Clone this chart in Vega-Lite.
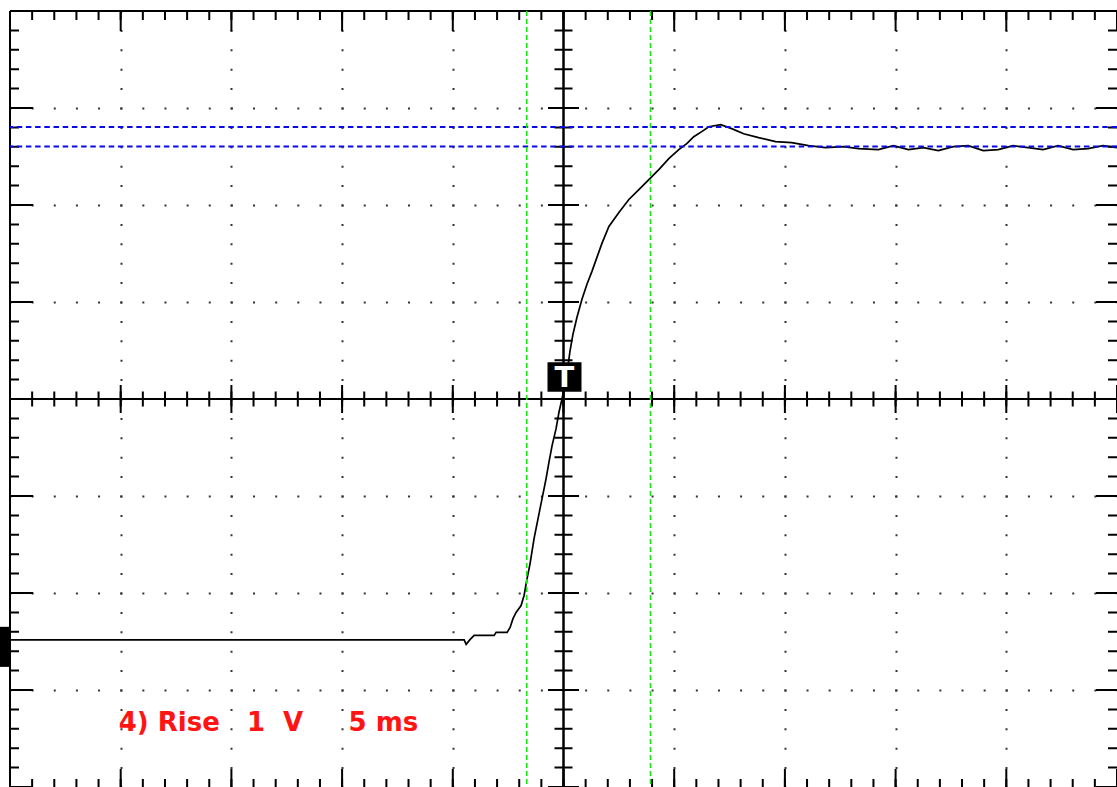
{
  "$schema": "https://vega.github.io/schema/vega-lite/v6.json",
  "width": 1107,
  "height": 776,
  "padding": {"left": 10, "top": 11, "right": 0, "bottom": 0},
  "autosize": {"type": "none"},
  "background": "white",
  "data": {"values": [{"item": "annotation"}]},
  "config": {
    "view": {"stroke": null},
    "axis": {"domain": false, "ticks": false, "labels": false, "title": null}
  },
  "layer": [
    {
      "data": {"values": [
        {"t": -25, "V": -2.483}, {"t": -4.486, "V": -2.483}, {"t": -4.396, "V": -2.529},
        {"t": -4.215, "V": -2.478}, {"t": -4.035, "V": -2.437}, {"t": -3.133, "V": -2.437},
        {"t": -3.043, "V": -2.406}, {"t": -2.547, "V": -2.406}, {"t": -2.412, "V": -2.355},
        {"t": -2.277, "V": -2.262}, {"t": -2.142, "V": -2.2}, {"t": -1.916, "V": -2.129},
        {"t": -1.781, "V": -2.026}, {"t": -1.646, "V": -1.851}, {"t": -1.51, "V": -1.697},
        {"t": -1.33, "V": -1.44}, {"t": -1.06, "V": -1.131}, {"t": -0.789, "V": -0.823},
        {"t": -0.654, "V": -0.648}, {"t": -0.518, "V": -0.483}, {"t": -0.338, "V": -0.308},
        {"t": -0.203, "V": -0.134}, {"t": -0.068, "V": 0}, {"t": 0.068, "V": 0.154},
        {"t": 0.203, "V": 0.339}, {"t": 0.293, "V": 0.494}, {"t": 0.428, "V": 0.668},
        {"t": 0.609, "V": 0.843}, {"t": 0.834, "V": 1.028}, {"t": 1.06, "V": 1.183},
        {"t": 1.285, "V": 1.316}, {"t": 1.51, "V": 1.46}, {"t": 1.736, "V": 1.604},
        {"t": 2.051, "V": 1.779}, {"t": 2.502, "V": 1.923}, {"t": 2.953, "V": 2.057},
        {"t": 3.404, "V": 2.159}, {"t": 3.945, "V": 2.283}, {"t": 4.305, "V": 2.365},
        {"t": 4.756, "V": 2.478}, {"t": 5.207, "V": 2.571}, {"t": 5.568, "V": 2.632},
        {"t": 5.884, "V": 2.704}, {"t": 6.244, "V": 2.756}, {"t": 6.56, "V": 2.807},
        {"t": 7.101, "V": 2.828}, {"t": 7.597, "V": 2.787}, {"t": 8.138, "V": 2.735},
        {"t": 8.814, "V": 2.694}, {"t": 9.581, "V": 2.653}, {"t": 10.302, "V": 2.643},
        {"t": 11.069, "V": 2.612}, {"t": 11.835, "V": 2.591}, {"t": 12.647, "V": 2.602},
        {"t": 13.323, "V": 2.581}, {"t": 14.225, "V": 2.571}, {"t": 14.901, "V": 2.612},
        {"t": 15.577, "V": 2.571}, {"t": 16.254, "V": 2.591}, {"t": 16.93, "V": 2.561},
        {"t": 17.606, "V": 2.602}, {"t": 18.283, "V": 2.612}, {"t": 18.959, "V": 2.561},
        {"t": 19.635, "V": 2.571}, {"t": 20.311, "V": 2.612}, {"t": 20.988, "V": 2.591},
        {"t": 21.664, "V": 2.571}, {"t": 22.34, "V": 2.612}, {"t": 23.016, "V": 2.571},
        {"t": 23.693, "V": 2.581}, {"t": 24.369, "V": 2.612}, {"t": 25, "V": 2.591}
      ]},
      "mark": {"type": "line", "color": "black", "strokeWidth": 1.7},
      "encoding": {
        "x": {"field": "t", "type": "quantitative",
          "scale": {"domain": [-25, 25], "nice": false, "zero": false},
          "axis": {"values": [-20, -15, -10, -5, 5, 10, 15, 20], "grid": true, "gridDash": [2, 17.4], "gridDashOffset": 1, "gridColor": "#333333", "gridWidth": 2, "gridOpacity": 1, "zindex": 0}},
        "y": {"field": "V", "type": "quantitative",
          "scale": {"domain": [-4, 4], "nice": false, "zero": false},
          "axis": {"values": [-3, -2, -1, 1, 2, 3], "grid": true, "gridDash": [2, 20.14], "gridDashOffset": 1, "gridColor": "#333333", "gridWidth": 2, "gridOpacity": 1, "zindex": 0}}
      }
    },
    {"mark": {"type": "rule", "color": "black", "strokeWidth": 2}, "encoding": {"y": {"datum": 4}}},
    {"mark": {"type": "rule", "color": "black", "strokeWidth": 2}, "encoding": {"x": {"datum": -25}}},
    {"mark": {"type": "rule", "color": "black", "strokeWidth": 2}, "encoding": {"y": {"datum": 0}}},
    {"mark": {"type": "rule", "color": "black", "strokeWidth": 2.5}, "encoding": {"x": {"datum": 0}}},

    {"mark": {"type": "rule", "color": "black", "strokeWidth": 9, "yOffset": 4.5, "strokeDash": [2, 20.14], "strokeDashOffset": 1}, "encoding": {"y": {"datum": 4}}},
    {"mark": {"type": "rule", "color": "black", "strokeWidth": 20, "yOffset": 10, "strokeDash": [2, 108.7], "strokeDashOffset": 1}, "encoding": {"y": {"datum": 4}}},
    {"mark": {"type": "rule", "color": "black", "strokeWidth": 8, "yOffset": -4, "strokeDash": [2, 20.14], "strokeDashOffset": 1}, "encoding": {"y": {"datum": -4}}},
    {"mark": {"type": "rule", "color": "black", "strokeWidth": 18, "yOffset": -9, "strokeDash": [2, 108.7], "strokeDashOffset": 1}, "encoding": {"y": {"datum": -4}}},
    {"mark": {"type": "rule", "color": "black", "strokeWidth": 15, "strokeDash": [2, 20.14], "strokeDashOffset": 1}, "encoding": {"y": {"datum": 0}}},
    {"mark": {"type": "rule", "color": "black", "strokeWidth": 28, "strokeDash": [2, 108.7], "strokeDashOffset": 1}, "encoding": {"y": {"datum": 0}}},

    {"mark": {"type": "rule", "color": "black", "strokeWidth": 9, "xOffset": 4.5, "strokeDash": [2, 17.4], "strokeDashOffset": 1}, "encoding": {"x": {"datum": -25}}},
    {"mark": {"type": "rule", "color": "black", "strokeWidth": 23, "xOffset": 11.5, "strokeDash": [2, 95], "strokeDashOffset": 1}, "encoding": {"x": {"datum": -25}}},
    {"mark": {"type": "rule", "color": "black", "strokeWidth": 9, "xOffset": -4.5, "strokeDash": [2, 17.4], "strokeDashOffset": 1}, "encoding": {"x": {"datum": 25}}},
    {"mark": {"type": "rule", "color": "black", "strokeWidth": 21, "xOffset": -10.5, "strokeDash": [2, 95], "strokeDashOffset": 1}, "encoding": {"x": {"datum": 25}}},
    {"mark": {"type": "rule", "color": "black", "strokeWidth": 18, "strokeDash": [2, 17.4], "strokeDashOffset": 1}, "encoding": {"x": {"datum": 0}}},
    {"mark": {"type": "rule", "color": "black", "strokeWidth": 31, "strokeDash": [2, 95], "strokeDashOffset": 1}, "encoding": {"x": {"datum": 0}}},

    {
      "data": {"values": [{"level": 2.804}, {"level": 2.602}]},
      "mark": {"type": "rule", "color": "#0a0ae6", "strokeWidth": 2, "strokeDash": [5.5, 3.7]},
      "encoding": {"y": {"field": "level", "type": "quantitative"}}
    },
    {
      "data": {"values": [{"time": -1.66}, {"time": 3.93}]},
      "mark": {"type": "rule", "color": "#14e614", "strokeWidth": 1.6, "strokeDash": [5, 3]},
      "encoding": {"x": {"field": "time", "type": "quantitative"}}
    },
    {
      "mark": {"type": "point", "shape": "M-1,-0.87L1,-0.87L1,0.87L-1,0.87Z", "size": 1156, "filled": true, "color": "black", "opacity": 1, "yOffset": -22, "xOffset": 1},
      "encoding": {"x": {"datum": 0}, "y": {"datum": 0}}
    },
    {
      "mark": {"type": "text", "text": "T", "font": "DejaVu Sans", "fontWeight": "bold", "fontSize": 29, "color": "white", "align": "center", "baseline": "alphabetic", "yOffset": -12, "xOffset": 1},
      "encoding": {"x": {"datum": 0}, "y": {"datum": 0}}
    },
    {
      "mark": {"type": "point", "shape": "M-1,-1.67L1,-1.67L1,1.67L-1,1.67Z", "size": 576, "filled": true, "color": "black", "opacity": 1, "xOffset": -12, "yOffset": 7},
      "encoding": {"x": {"datum": -25}, "y": {"datum": -2.483}}
    },
    {
      "mark": {"type": "text", "text": "4)\u00a0Rise\u00a0\u00a0\u00a01\u00a0\u00a0V\u00a0\u00a0\u00a0\u00a0\u00a05\u00a0ms", "font": "DejaVu Sans", "fontWeight": "bold", "fontSize": 26, "color": "#ff1414", "align": "left", "baseline": "alphabetic", "xOffset": -2},
      "encoding": {"x": {"datum": -20}, "y": {"datum": -3.42}}
    }
  ]
}
